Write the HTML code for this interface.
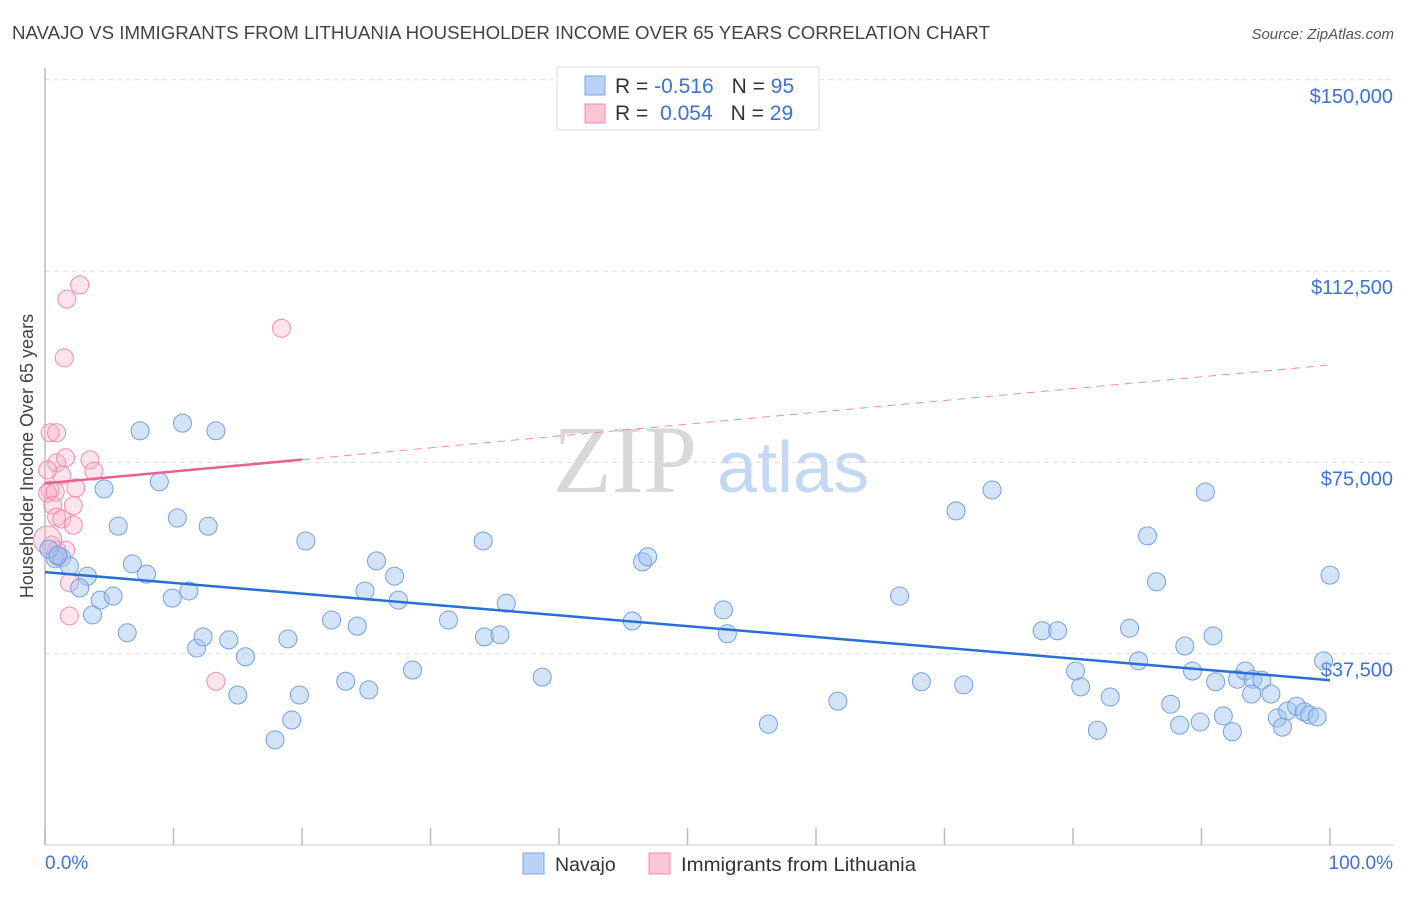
<!DOCTYPE html>
<html><head><meta charset="utf-8"><style>
body{margin:0;background:#fff;font-family:"Liberation Sans",sans-serif;}
svg text{font-family:"Liberation Sans",sans-serif;}
</style></head><body>
<svg id="chart" width="1406" height="892" viewBox="0 0 1406 892" xmlns="http://www.w3.org/2000/svg">
<text x="12" y="39" font-size="18" fill="#444" textLength="978" lengthAdjust="spacingAndGlyphs">NAVAJO VS IMMIGRANTS FROM LITHUANIA HOUSEHOLDER INCOME OVER 65 YEARS CORRELATION CHART</text>
<text x="1394" y="39" font-size="15" fill="#555" font-style="italic" text-anchor="end">Source: ZipAtlas.com</text>
<text x="33" y="456" font-size="18" fill="#444" text-anchor="middle" transform="rotate(-90 33 456)">Householder Income Over 65 years</text>
<g>
<text x="553" y="492" font-size="96" fill="#d8d8d8" font-family="Liberation Serif" style="font-family:'Liberation Serif',serif">ZIP</text>
<text x="717" y="492" font-size="72" fill="#c5d8f2">atlas</text>
</g>
<g id="grid"></g><g id="axes"></g><g id="marks"></g>
<g>
<rect x="557" y="67" width="262" height="63" fill="#fff" stroke="#ddd"/>
<rect x="585" y="76" width="20" height="19" fill="#b9d2f5" stroke="#7aa6e6"/>
<rect x="585" y="104" width="20" height="19" fill="#fbc5d5" stroke="#f08cab"/>
<text x="615" y="93" font-size="21" fill="#333">R = <tspan fill="#3b73d9">-0.516</tspan><tspan dx="18">N = </tspan><tspan fill="#3b73d9">95</tspan></text>
<text x="615" y="120" font-size="21" fill="#333">R = <tspan fill="#3b73d9" dx="6">0.054</tspan><tspan dx="18">N = </tspan><tspan fill="#3b73d9">29</tspan></text>
</g>
<g>
<rect x="523" y="853" width="21" height="21" fill="#b9d2f5" stroke="#7aa6e6"/>
<text x="555" y="871" font-size="19.5" fill="#333">Navajo</text>
<rect x="649" y="853" width="21" height="21" fill="#fbc5d5" stroke="#f08cab"/>
<text x="681" y="871" font-size="19.5" fill="#333" textLength="235" lengthAdjust="spacingAndGlyphs">Immigrants from Lithuania</text>
</g>
</svg>
<script>
const navajoX=[0.8,1.3,1.9,3.3,2.7,4.3,5.3,3.7,4.6,5.7,6.4,6.8,7.4,7.9,8.9,9.9,10.3,10.7,11.2,11.8,12.3,12.7,13.3,14.3,15.0,15.6,17.9,18.9,19.2,19.8,20.3,22.3,23.4,24.3,24.9,25.2,25.8,27.2,27.5,28.6,31.4,34.1,34.2,35.4,35.9,38.7,45.7,46.5,46.9,52.8,53.1,56.3,61.7,66.5,68.2,70.9,71.5,73.7,77.6,78.8,80.2,80.6,81.9,82.9,84.4,85.1,85.8,86.5,87.6,88.3,88.7,89.3,89.9,90.3,90.9,91.1,91.7,92.4,92.8,93.4,94.0,94.7,93.9,95.4,95.9,96.3,96.7,97.4,98.0,98.4,99.0,99.5,100,0.3,1.0];
const navajoY=[56.1,56.3,54.7,52.7,50.4,48.0,48.8,45.1,69.8,62.5,41.6,55.1,81.2,53.1,71.2,48.4,64.1,82.7,49.8,38.6,40.8,62.5,81.2,40.2,29.4,36.9,20.6,40.4,24.5,29.4,59.6,44.1,32.1,42.9,49.8,30.4,55.7,52.7,48.0,34.3,44.1,59.6,40.8,41.2,47.4,32.9,43.9,55.5,56.5,46.1,41.4,23.7,28.2,48.8,32.0,65.5,31.4,69.6,42.0,42.0,34.1,31.0,22.5,29.0,42.5,36.1,60.6,51.6,27.6,23.5,39.0,34.1,24.1,69.2,41.0,32.0,25.3,22.2,32.5,34.1,32.5,32.3,29.6,29.6,24.9,23.1,26.3,27.2,26.1,25.5,25.1,36.1,52.9,58.0,56.8];
const lithX=[0.4,0.9,0.9,1.6,3.5,3.8,1.3,0.4,0.2,0.8,2.4,0.6,2.2,0.9,1.3,2.2,0.5,0.9,1.6,1.9,1.9,1.7,2.7,1.5,18.4,13.3,0.2,0.2,1.0];
const lithY=[80.8,80.8,74.9,75.9,75.5,73.3,72.5,69.6,69.0,69.2,70.0,66.6,66.5,64.3,63.9,62.7,58.8,57.8,57.8,51.4,44.9,107.0,109.8,95.5,101.3,32.1,59.8,73.5,56.5];
const navajoTrend=[53.5,32.3]; // y at 0% and 100%
const lithTrend=[70.9,94.1];
const lithSolidEnd=20;
const yTicks=[37.5,75,112.5,150];
const yTickLabels=["$37,500","$75,000","$112,500","$150,000"];
const xTicks=[0,10,20,30,40,50,60,70,80,90,100];

const NS="http://www.w3.org/2000/svg";
const sx=v=>45+v*12.85;
const sy=v=>845-v*191.3/37.5;
function mk(tag,attrs,parent){const e=document.createElementNS(NS,tag);for(const k in attrs)e.setAttribute(k,attrs[k]);parent.appendChild(e);return e;}
const grid=document.getElementById('grid'),axes=document.getElementById('axes'),marks=document.getElementById('marks');
yTicks.forEach((t,i)=>{
  const l=mk('line',{x1:45,x2:1393,y1:sy(t),y2:sy(t),stroke:'#ddd','stroke-dasharray':'5,4'},grid);
  
  
  const tx=mk('text',{x:1393,y:sy(t)+23,'font-size':20,fill:'#3b73d9','text-anchor':'end'},axes);
  tx.textContent=yTickLabels[i];
  
  
});
const ya=mk('line',{x1:45,x2:45,y1:68,y2:845,stroke:'#bbb','stroke-width':1.5},axes);


const xa=mk('line',{x1:45,x2:1393,y1:845,y2:845,stroke:'#ccc'},axes);


xTicks.forEach(t=>{
  const l=mk('line',{x1:sx(t),x2:sx(t),y1:828,y2:845,stroke:'#bbb','stroke-width':1.5},axes);
  
  
});
const x0=mk('text',{x:45,y:869,'font-size':19,fill:'#3b73d9'},axes);x0.textContent='0.0%';


const x1=mk('text',{x:1393,y:869,'font-size':19,fill:'#3b73d9','text-anchor':'end'},axes);x1.textContent='100.0%';



lithX.forEach((x,i)=>{
  const c=mk('circle',{cx:sx(x),cy:sy(lithY[i]),r:i===26?14:9,fill:'rgba(248,175,198,0.35)',stroke:'#f08cab','stroke-width':1},marks);
  
  
});
navajoX.forEach((x,i)=>{
  const c=mk('circle',{cx:sx(x),cy:sy(navajoY[i]),r:9,fill:'rgba(160,195,240,0.45)',stroke:'#74a0e4','stroke-width':1},marks);
  
  
});
const lt=v=>lithTrend[0]+(lithTrend[1]-lithTrend[0])*v/100;
const pd=mk('line',{x1:sx(lithSolidEnd),y1:sy(lt(lithSolidEnd)),x2:sx(100),y2:sy(lt(100)),stroke:'#f08cab','stroke-width':1,'stroke-dasharray':'8,6'},marks);


const ps=mk('line',{x1:sx(0),y1:sy(lt(0)),x2:sx(lithSolidEnd),y2:sy(lt(lithSolidEnd)),stroke:'#e8628e','stroke-width':2.5},marks);


const bl=mk('line',{x1:sx(0),y1:sy(navajoTrend[0]),x2:sx(100),y2:sy(navajoTrend[1]),stroke:'#2a6fd6','stroke-width':2.5},marks);


</script>
</body></html>
